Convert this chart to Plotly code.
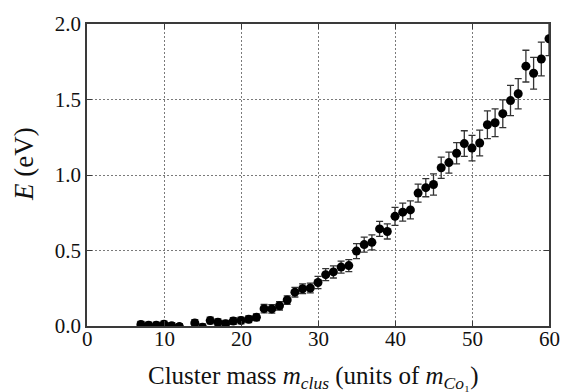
import plotly.graph_objects as go

# Cluster mass (units of m_Co1) and energy E (eV) with uncertainties
mass = [7, 8, 9, 10, 11, 12, 14, 15, 16, 17, 18, 19, 20, 21, 22, 23, 24, 25, 26,
        27, 28, 29, 30, 31, 32, 33, 34, 35, 36, 37, 38, 39, 40, 41, 42, 43, 44,
        45, 46, 47, 48, 49, 50, 51, 52, 53, 54, 55, 56, 57, 58, 59, 60]
energy = [0.010, 0.005, 0.005, 0.012, 0.002, -0.004, 0.020, -0.008, 0.036, 0.025,
          0.015, 0.033, 0.037, 0.045, 0.058, 0.115, 0.113, 0.134, 0.172, 0.224,
          0.247, 0.252, 0.288, 0.340, 0.358, 0.390, 0.400, 0.496, 0.539, 0.554,
          0.643, 0.626, 0.726, 0.754, 0.769, 0.880, 0.916, 0.937, 1.048, 1.082,
          1.144, 1.208, 1.178, 1.212, 1.333, 1.346, 1.406, 1.493, 1.538, 1.721,
          1.674, 1.768, 1.902]
energy_err = [0.020, 0.020, 0.020, 0.020, 0.020, 0.020, 0.022, 0.022, 0.022, 0.022,
              0.022, 0.022, 0.022, 0.022, 0.022, 0.028, 0.028, 0.028, 0.028, 0.032,
              0.032, 0.032, 0.040, 0.040, 0.040, 0.040, 0.040, 0.050, 0.050, 0.050,
              0.050, 0.050, 0.060, 0.060, 0.060, 0.060, 0.060, 0.070, 0.070, 0.070,
              0.070, 0.085, 0.085, 0.085, 0.092, 0.092, 0.092, 0.100, 0.100, 0.105,
              0.105, 0.112, 0.112]

x_ticks = [0, 10, 20, 30, 40, 50, 60]
y_ticks = [0.0, 0.5, 1.0, 1.5, 2.0]

FONT = "Liberation Serif, Times New Roman, serif"
FRAME = "#3a3a3a"
TEXT = "#111111"

W, H = 580, 392
L, R, T, B = 87, 31, 13, 66

fig = go.Figure()
fig.add_trace(go.Scatter(
    x=mass, y=energy, mode="markers",
    marker=dict(color="black", size=9),
    error_y=dict(type="data", array=energy_err, visible=True,
                 color="#333333", thickness=1.3, width=3.5),
    cliponaxis=True, showlegend=False,
))

axis_common = dict(
    showline=True, linecolor=FRAME, linewidth=1.5, mirror="allticks",
    ticks="inside", ticklen=5, tickcolor=FRAME, tickwidth=1,
    showgrid=True, gridcolor="#7a7a7a", griddash="1.5px,2.5px", gridwidth=1,
    zeroline=False, tickfont=dict(family=FONT, size=21, color=TEXT),
)

fig.update_xaxes(
    range=[0, 60], tickvals=x_ticks, showticklabels=False,
    **axis_common,
)
fig.update_yaxes(
    range=[0, 2.0], tickvals=y_ticks, ticktext=[f"{t:.1f}" for t in y_ticks],
    **axis_common,
)

# x tick labels sit tight under the frame
for t in x_ticks:
    fig.add_annotation(
        x=t, y=0, xref="x", yref="paper", xanchor="center", yanchor="top",
        yshift=1, text=str(t), showarrow=False,
        font=dict(family=FONT, size=21, color=TEXT),
    )

# axis titles placed as paper annotations
fig.add_annotation(
    x=(313 - L) / (W - L - R), y=-(379 - (H - B)) / (H - T - B),
    xref="paper", yref="paper", xanchor="center", yanchor="middle",
    text="Cluster mass <i>m</i><sub><i>clus</i></sub> (units of "
         "<i>m</i><sub><i>Co</i>₁</sub>)",
    showarrow=False, font=dict(family=FONT, size=25, color=TEXT),
)
fig.add_annotation(
    x=(24 - L) / (W - L - R), y=((H - B) - 158) / (H - T - B),
    xref="paper", yref="paper", xanchor="center", yanchor="middle",
    text="<i>E</i> (eV)", textangle=-90,
    showarrow=False, font=dict(family=FONT, size=27, color=TEXT),
)

fig.update_layout(
    width=W, height=H,
    margin=dict(l=L, r=R, t=T, b=B),
    paper_bgcolor="white", plot_bgcolor="white",
)

fig.write_html("out.html")
